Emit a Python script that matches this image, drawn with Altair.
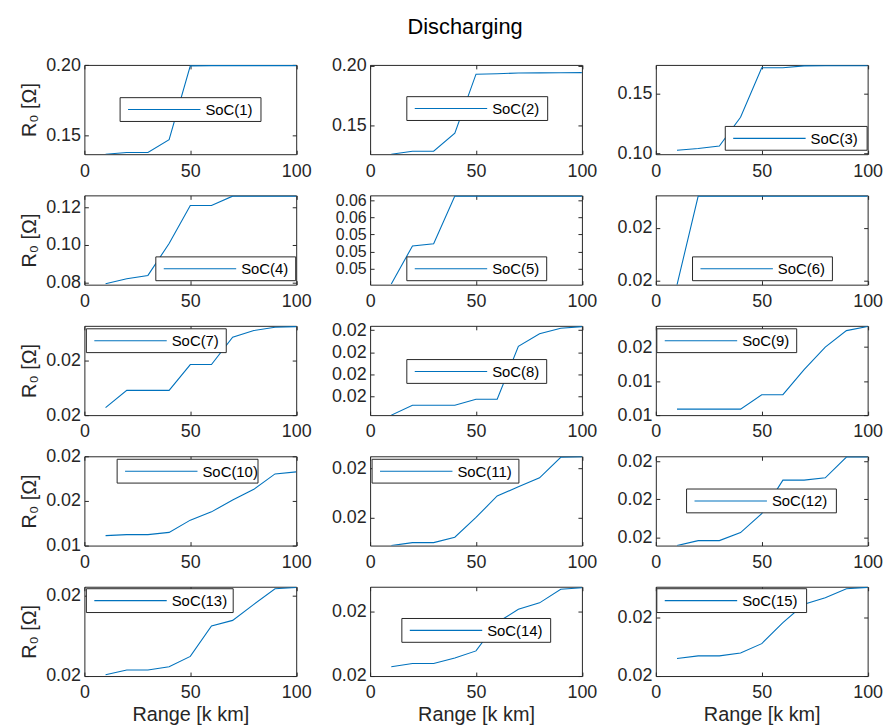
import altair as alt
import pandas as pd

# ---------------- data ----------------
range_kkm = [10, 20, 30, 40, 50, 60, 70, 80, 90, 100]

soc1 = [0.1366, 0.1378, 0.1378, 0.1470, 0.1995, 0.1997, 0.1997, 0.1997, 0.1997, 0.1997]
soc2 = [0.1255, 0.1280, 0.1280, 0.1433, 0.1930, 0.1934, 0.1940, 0.1941, 0.1942, 0.1943]
soc3 = [0.1028, 0.1042, 0.1063, 0.1302, 0.1714, 0.1714, 0.1729, 0.1730, 0.1730, 0.1730]
soc4 = [0.0795, 0.0821, 0.0839, 0.1008, 0.1209, 0.1209, 0.1259, 0.1259, 0.1259, 0.1259]
soc5 = [0.04823, 0.05266, 0.05292, 0.05846, 0.05846, 0.05846, 0.05846, 0.05846, 0.05846, 0.05846]
soc6 = [0.01956, 0.02040, 0.02040, 0.02040, 0.02040, 0.02040, 0.02040, 0.02040, 0.02040, 0.02040]
soc7 = [0.019669, 0.019826, 0.019826, 0.019826, 0.020061, 0.020061, 0.020311, 0.020371, 0.020401, 0.020407]
soc8 = [0.019234, 0.019323, 0.019323, 0.019323, 0.019377, 0.019377, 0.019853, 0.019966, 0.020016, 0.020031]
soc9 = [0.01235, 0.01235, 0.01235, 0.01235, 0.01320, 0.01320, 0.01468, 0.01600, 0.01697, 0.01721]
soc10 = [0.014444, 0.014489, 0.014489, 0.014590, 0.015140, 0.015510, 0.016044, 0.016520, 0.017210, 0.017300]
soc11 = [0.019485, 0.019497, 0.019497, 0.019519, 0.019600, 0.019688, 0.019725, 0.019762, 0.019846, 0.019848]
soc12 = [0.019557, 0.019583, 0.019583, 0.019625, 0.019725, 0.019901, 0.019901, 0.019913, 0.020022, 0.020022]
soc13 = [0.019603, 0.019615, 0.019615, 0.019623, 0.019649, 0.019725, 0.019739, 0.019779, 0.019818, 0.019821]
soc14 = [0.019629, 0.019639, 0.019639, 0.019656, 0.019678, 0.019766, 0.019807, 0.019827, 0.019869, 0.019874]
soc15 = [0.019660, 0.019669, 0.019669, 0.019679, 0.019711, 0.019783, 0.019846, 0.019868, 0.019899, 0.019904]

series = [soc1, soc2, soc3, soc4, soc5, soc6, soc7, soc8, soc9, soc10,
          soc11, soc12, soc13, soc14, soc15]
series_names = [f"SoC({i})" for i in range(1, 16)]

# y axis ranges and tick values (labels shown with 2 decimals, as in the source)
y_domains = [
    [0.1366, 0.2002], [0.1255, 0.2008], [0.0995, 0.1737],
    [0.0790, 0.1263], [0.04815, 0.05855], [0.019562, 0.020407],
    [0.0196, 0.020414], [0.019234, 0.020038], [0.012, 0.01725],
    [0.014, 0.018], [0.019485, 0.01985], [0.019557, 0.020026],
    [0.0196, 0.019823], [0.0196, 0.019877], [0.0196, 0.019906],
]
y_ticks = [
    [0.15, 0.20], [0.15, 0.20], [0.10, 0.15],
    [0.08, 0.10, 0.12], [0.050, 0.052, 0.054, 0.056, 0.058], [0.0196, 0.0201],
    [0.0196, 0.0201], [0.0194, 0.0196, 0.0198, 0.0200], [0.012, 0.014, 0.016],
    [0.014, 0.016, 0.018], [0.0196, 0.0198], [0.0196, 0.0198, 0.0200],
    [0.0196, 0.0198], [0.0196, 0.0198], [0.0196, 0.0198],
]
x_ticks = [0, 50, 100]

# ---------------- layout ----------------
PW, PH = 213.5, 90
# legend box: left, top (relative to each plot area), width
legend_box = [(36, 33, 142), (37, 32, 142), (70, 62, 143), (72, 62, 141), (37, 62, 141),
              (37, 62, 141), (2, 3, 141), (37, 34, 141), (1, 3, 141), (33, 3, 142),
              (2, 3, 148), (31, 33, 151), (2, 2, 148), (32, 32, 150), (1, 2, 151)]
LB_H = 24

FONT = "Liberation Sans"
AX = "#262626"
LINE = "#0072BD"

panels = []
for i in range(15):
    row, col = divmod(i, 3)
    df = pd.DataFrame({"range": range_kkm, "r0": series[i]})
    lab = pd.DataFrame({"name": [series_names[i]]})
    yaxis_kw = dict(values=y_ticks[i], format=".2f")
    yaxis_kw["title"] = "R₀ [Ω]" if col == 0 else None
    if len(y_ticks[i]) > 4:
        yaxis_kw["labelFontSize"] = 16
    xaxis_kw = dict(values=x_ticks)
    xaxis_kw["title"] = "Range [k km]" if row == 4 else None
    lx, ly, lw = legend_box[i]

    line = alt.Chart(df).mark_line(clip=True, strokeWidth=1.1, color=LINE).encode(
        x=alt.X("range:Q", scale=alt.Scale(domain=[0, 100], nice=False),
                axis=alt.Axis(**xaxis_kw)),
        y=alt.Y("r0:Q", scale=alt.Scale(domain=y_domains[i], nice=False, zero=False),
                axis=alt.Axis(**yaxis_kw)),
    )
    box = alt.Chart(lab).mark_rect(fill="white", stroke=AX, strokeWidth=1).encode(
        x=alt.value(lx), x2=alt.value(lx + lw), y=alt.value(ly), y2=alt.value(ly + LB_H)
    )
    sample = alt.Chart(lab).mark_rule(color=LINE, strokeWidth=1.1).encode(
        x=alt.value(lx + 8), x2=alt.value(lx + 81), y=alt.value(ly + LB_H / 2)
    )
    text = alt.Chart(lab).mark_text(align="left", baseline="middle", font=FONT,
                                    fontSize=15, color="#000000").encode(
        x=alt.value(lx + 86), y=alt.value(ly + LB_H / 2 + 0.5), text="name:N"
    )
    panels.append(alt.layer(line, box, sample, text).properties(width=PW, height=PH))

chart = alt.concat(*panels, columns=3, spacing={"row": 41.5, "column": 74}, bounds="flush").resolve_scale(
    x="independent", y="independent"
).properties(
    title=alt.TitleParams("Discharging", fontSize=22, font=FONT, fontWeight="normal",
                          color="#000000", anchor="middle", offset=16.8, dx=14),
    padding={"left": 11, "top": 4.5, "right": 0, "bottom": 0},
).configure_view(
    stroke=AX, strokeWidth=1
).configure_axis(
    labelFont=FONT, labelFontSize=18, labelColor=AX, labelFlush=False, labelOverlap=False,
    titleFont=FONT, titleFontSize=20, titleFontWeight="normal", titleColor=AX,
    domain=False, ticks=False, grid=True, gridColor=AX, gridWidth=1,
).configure_axisX(
    labelPadding=8, gridDash=[4, PH - 8], titlePadding=2.5,
).configure_axisY(
    labelPadding=4, gridDash=[4, PW - 8], titlePadding=6,
)

chart.save("out.html", embed_options={"renderer": "svg", "actions": False})
